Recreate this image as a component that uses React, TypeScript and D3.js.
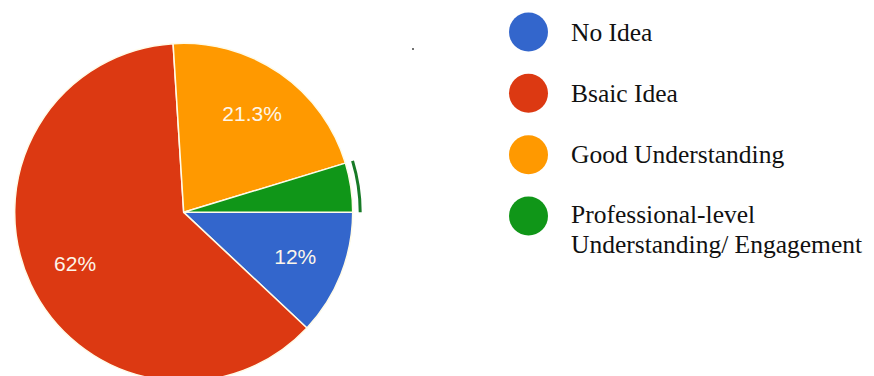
import React from "react";
import * as d3 from "d3";

const categories = ["No Idea", "Bsaic Idea", "Good Understanding", "Professional-level Understanding/ Engagement"];
const legendLines = [["No Idea"], ["Bsaic Idea"], ["Good Understanding"], ["Professional-level", "Understanding/ Engagement"]];
const values = [12, 62, 21.3, 4.7];
const labels = ["12%", "62%", "21.3%", ""];
const colors = ["#3366cc", "#dc3912", "#ff9900", "#109618"];

const W = 874;
const H = 376;
const cx = 183.7;
const cy = 212.3;
const R = 169;

export default function App() {
  const pie = d3
    .pie<number>()
    .sort(null)
    .value((d) => d)
    .startAngle(Math.PI / 2)
    .endAngle(Math.PI / 2 + 2 * Math.PI);
  const arcs = pie(values);
  const arc = d3.arc<d3.PieArcDatum<number>>().innerRadius(0).outerRadius(R);
  const labelArc = d3.arc<d3.PieArcDatum<number>>().innerRadius(120).outerRadius(120);
  const ringArc = d3.arc<d3.PieArcDatum<number>>().innerRadius(175).outerRadius(178);
  const legendY = d3.scaleLinear().domain([0, 3]).range([32, 216]);

  return (
    <svg width={W} height={H} style={{ position: "absolute", left: 0, top: 0, background: "#fff" }}>
      <g transform={`translate(${cx},${cy})`}>
        {arcs.map((a, i) => (
          <path key={i} d={arc(a) || ""} fill={colors[i]} stroke="#fffbe8" strokeWidth={1.5} />
        ))}
        <path d={ringArc(arcs[3]) || ""} fill="#177a26" />
        {arcs.map((a, i) => {
          const [x, y] = labelArc.centroid(a);
          return labels[i] ? (
            <text
              key={"l" + i}
              x={x}
              y={y}
              dy="0.36em"
              textAnchor="middle"
              fill="#fdf6ea"
              style={{ fontFamily: "Liberation Sans, Arial, sans-serif", fontSize: 21 }}
            >
              {labels[i]}
            </text>
          ) : null;
        })}
      </g>
      <circle cx={413} cy={49} r={1} fill="#444" />
      {categories.map((c, i) => (
        <g key={c}>
          <circle cx={528.5} cy={legendY(i)} r={19.5} fill={colors[i]} />
          {legendLines[i].map((line, j) => (
            <text
              key={j}
              x={571}
              y={legendY(i) + 8.5 + j * 30 + (legendLines[i].length > 1 ? -2 : 0)}
              fill="#111"
              style={{ fontFamily: "Liberation Serif, Times New Roman, serif", fontSize: 25.5 }}
            >
              {line}
            </text>
          ))}
        </g>
      ))}
    </svg>
  );
}
